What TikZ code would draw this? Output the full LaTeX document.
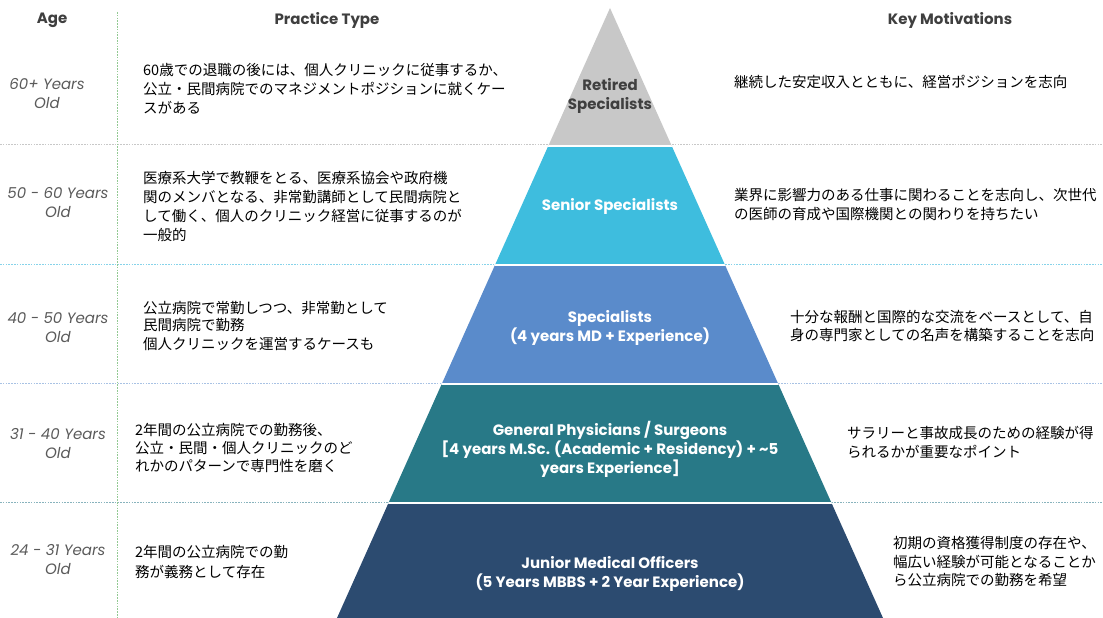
\documentclass[tikz,border=0pt]{standalone}
\usepackage{fontspec}
\setmainfont{Poppins}
\newfontfamily\jp{Noto Sans CJK JP}
\definecolor{headgray}{HTML}{3F3F3F}
\definecolor{agegray}{HTML}{5A5A5A}
\definecolor{tiergray}{HTML}{C8C8C8}
\definecolor{tiercyan}{HTML}{3EBDDE}
\definecolor{tierblue}{HTML}{5A8BCB}
\definecolor{tierteal}{HTML}{287987}
\definecolor{tiernavy}{HTML}{2C4B70}
\definecolor{rulegray}{HTML}{C8C8C8}
\definecolor{rulecyan}{HTML}{86D3EA}
\definecolor{ruleblue}{HTML}{A8C2E4}
\definecolor{ruleteal}{HTML}{88B3BD}
\definecolor{rulegreen}{HTML}{92C992}
\begin{document}
\begin{tikzpicture}[x=1pt,y=-1pt,
  rule/.style={line width=0.9pt, dash pattern=on 1.6pt off 1.2pt},
  head/.style={font=\fontsize{15}{18}\selectfont\bfseries, text=headgray, inner sep=0},
  age/.style={font=\fontsize{15}{19}\selectfont\itshape, text=agegray, align=center, inner sep=0},
  jptxt/.style={font=\jp\fontsize{14.5}{19}\selectfont, text=black, align=left, anchor=west, inner sep=0},
  tier/.style={font=\fontsize{15}{19}\selectfont\bfseries, text=white, align=center, inner sep=0},
]
\useasboundingbox (0,0) rectangle (1103,618);

% table rules
\draw[rule, rulegray]  (0,144) -- (1103,144);
\draw[rule, rulecyan]  (0,264) -- (1103,264);
\draw[rule, ruleblue]  (0,383) -- (1103,383);
\draw[rule, ruleteal]  (0,502) -- (1103,502);
\draw[rule, rulegreen] (117,12) -- (117,618);

% pyramid tiers
\begin{scope}
  \clip (610,8) -- (883,618) -- (337,618) -- cycle;
  \fill[tiergray] (300,0)   rectangle (920,146);
  \fill[tiercyan] (300,146) rectangle (920,265);
  \fill[tierblue] (300,265) rectangle (920,384);
  \fill[tierteal] (300,384) rectangle (920,503);
  \fill[tiernavy] (300,503) rectangle (920,618);
  \foreach \yy in {146,265,384,503}
    \draw[white, line width=2pt] (300,\yy) -- (920,\yy);
\end{scope}

% tier labels
\node[tier, text=headgray] (retired) at (610,96) {Retired\\Specialists};
\node[tier] (senior) at (610,206) {Senior Specialists};
\node[tier] (spec) at (610,328) {Specialists\\(4 years MD + Experience)};
\node[tier] (gp) at (610,449) {General Physicians / Surgeons\\ {[}4 years M.Sc. (Academic + Residency) + \textasciitilde5\\ years Experience{]}};
\node[tier] (jmo) at (610,574) {Junior Medical Officers\\(5 Years MBBS + 2 Year Experience)};

% column headers
\node[head] (hage) at (52,20) {Age};
\node[head] (hpractice) at (327,20) {Practice Type};
\node[head] (hmotiv) at (950,20) {Key Motivations};

% age bands
\node[age] (age1) at (47,94)  {60+ Years\\Old};
\node[age] (age2) at (58,203) {50 - 60 Years\\Old};
\node[age] (age3) at (58,328) {40 - 50 Years\\Old};
\node[age] (age4) at (58,444) {31 - 40 Years\\Old};
\node[age] (age5) at (58,560) {24 - 31 Years\\Old};

% practice type
\node[jptxt] (p1) at (143,89) {60歳での退職の後には、個人クリニックに従事するか、\\公立・民間病院でのマネジメントポジションに就くケー\\スがある};
\node[jptxt] (p2) at (143,206) {医療系大学で教鞭をとる、医療系協会や政府機\\関のメンバとなる、非常勤講師として民間病院と\\して働く、個人のクリニック経営に従事するのが\\一般的};
\node[jptxt, font=\jp\fontsize{14.5}{17}\selectfont] (p3) at (143,326) {公立病院で常勤しつつ、非常勤として\\民間病院で勤務\\[2pt]個人クリニックを運営するケースも};
\node[jptxt, font=\jp\fontsize{14.5}{18}\selectfont] (p4) at (135,448) {2年間の公立病院での勤務後、\\公立・民間・個人クリニックのど\\れかのパターンで専門性を磨く};
\node[jptxt, font=\jp\fontsize{14.5}{20}\selectfont] (p5) at (135,562) {2年間の公立病院での勤\\務が義務として存在};

% key motivations
\node[jptxt] (k1) at (734,82) {継続した安定収入とともに、経営ポジションを志向};
\node[jptxt] (k2) at (734,205) {業界に影響力のある仕事に関わることを志向し、次世代\\の医師の育成や国際機関との関わりを持ちたい};
\node[jptxt, font=\jp\fontsize{14.5}{18}\selectfont] (k3) at (790,326) {十分な報酬と国際的な交流をベースとして、自\\身の専門家としての名声を構築することを志向};
\node[jptxt] (k4) at (847,442) {サラリーと事故成長のための経験が得\\られるかが重要なポイント};
\node[jptxt, font=\jp\fontsize{14.5}{18.5}\selectfont] (k5) at (893,562) {初期の資格獲得制度の存在や、\\幅広い経験が可能となることか\\ら公立病院での勤務を希望};
\end{tikzpicture}
\end{document}
